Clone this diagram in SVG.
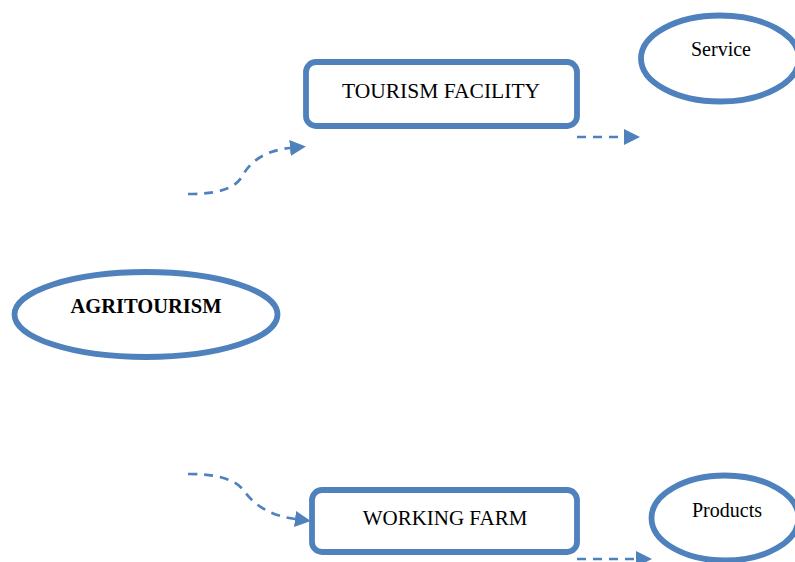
<svg xmlns="http://www.w3.org/2000/svg" width="795" height="562" viewBox="0 0 795 562">
<style>
.shape{fill:#ffffff;stroke:#4f81bd;stroke-width:5.8}
.conn{fill:none;stroke:#4f81bd;stroke-width:2.7;stroke-dasharray:9,7}
.lbl{font-family:"Liberation Serif","Times New Roman",serif;fill:#000000;text-anchor:middle}
</style>
<defs>
<marker id="arr" viewBox="0 0 10 10" refX="0" refY="5" markerWidth="16" markerHeight="16" markerUnits="userSpaceOnUse" orient="auto">
<path d="M0,0 L10,5 L0,10 Z" fill="#4f81bd"/>
</marker>
</defs>
<rect width="795" height="562" fill="#ffffff"/>
<g id="connectors">
<path class="conn" d="M188,194 C215,194 235,190 243,175 C251,160 268,150 290,148" marker-end="url(#arr)"/>
<path class="conn" d="M577,137 L624,137" marker-end="url(#arr)"/>
<path class="conn" d="M188,474 C215,474 235,478 245,492 C255,506 272,516 295,519" marker-end="url(#arr)"/>
<path class="conn" d="M577,559 L636,559" marker-end="url(#arr)"/>
</g>
<g id="agritourism">
<ellipse class="shape" cx="146" cy="314.5" rx="131.5" ry="42.5"/>
<text class="lbl" x="146" y="313" font-size="20.5" font-weight="bold">AGRITOURISM</text>
</g>
<g id="tourism-facility">
<rect class="shape" x="306" y="62" width="271" height="64" rx="10"/>
<text class="lbl" x="441" y="98" font-size="21.5">TOURISM FACILITY</text>
</g>
<g id="working-farm">
<rect class="shape" x="312" y="490" width="265" height="62" rx="10"/>
<text class="lbl" x="445" y="525" font-size="21">WORKING FARM</text>
</g>
<g id="service">
<ellipse class="shape" cx="720" cy="58.5" rx="79" ry="43"/>
<text class="lbl" x="721" y="56" font-size="20">Service</text>
</g>
<g id="products">
<ellipse class="shape" cx="725" cy="518" rx="73.5" ry="42.5"/>
<text class="lbl" x="727" y="517" font-size="20">Products</text>
</g>
</svg>
